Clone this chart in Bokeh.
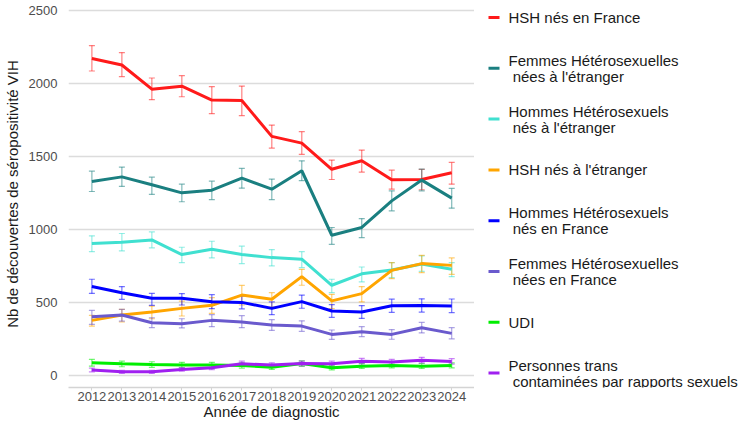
from bokeh.plotting import figure
from bokeh.layouts import row
from bokeh.models import ColumnDataSource, Whisker, TeeHead, FixedTicker, Range1d
from bokeh.core.properties import value
from bokeh.embed import file_html
from bokeh.resources import INLINE

years = list(range(2012, 2025))

series_names = [
    "HSH nés en France",
    "Femmes Hétérosexuelles\n nées à l'étranger",
    "Hommes Hétérosexuels\n nés à l'étranger",
    "HSH nés à l'étranger",
    "Hommes Hétérosexuels\n nés en France",
    "Femmes Hétérosexuelles\n nées en France",
    "UDI",
    "Personnes trans\n contaminées par rapports sexuels",
]
series_colors = ["#ff1a1a", "#1a7f80", "#40e0d0", "#ffa500", "#0000ff", "#6a5acd", "#00ee00", "#a020f0"]

hsh_fr = [2170, 2125, 1960, 1980, 1885, 1882, 1637, 1591, 1412, 1470, 1340, 1342, 1388]
hsh_fr_lo = [2084, 2046, 1888, 1908, 1792, 1779, 1557, 1514, 1342, 1393, 1276, 1272, 1310]
hsh_fr_hi = [2258, 2210, 2036, 2052, 1977, 1981, 1714, 1669, 1475, 1543, 1406, 1411, 1459]

fem_etr = [1329, 1360, 1306, 1251, 1269, 1352, 1276, 1402, 961, 1014, 1196, 1338, 1215]
fem_etr_lo = [1260, 1295, 1240, 1190, 1205, 1283, 1205, 1334, 899, 945, 1128, 1265, 1146]
fem_etr_hi = [1399, 1427, 1358, 1310, 1331, 1418, 1345, 1470, 1014, 1075, 1265, 1413, 1281]

hom_etr = [904, 913, 929, 829, 865, 829, 808, 797, 619, 697, 724, 765, 728]
hom_etr_lo = [849, 854, 875, 774, 806, 767, 751, 740, 568, 642, 671, 714, 678]
hom_etr_hi = [957, 973, 984, 879, 920, 886, 863, 849, 660, 744, 774, 820, 774]

hsh_etr = [379, 416, 436, 461, 482, 552, 523, 678, 512, 562, 721, 767, 755]
hsh_etr_lo = [340, 368, 390, 409, 427, 484, 470, 619, 459, 505, 664, 705, 694]
hsh_etr_hi = [413, 454, 477, 511, 534, 618, 568, 728, 557, 610, 774, 824, 806]

hom_fr = [610, 568, 530, 530, 507, 502, 461, 507, 443, 436, 479, 481, 477]
hom_fr_lo = [563, 523, 482, 484, 459, 458, 418, 462, 400, 392, 434, 436, 432]
hom_fr_hi = [660, 610, 563, 562, 555, 545, 505, 552, 487, 480, 524, 526, 525]

fem_fr = [404, 416, 363, 356, 379, 368, 347, 340, 283, 301, 283, 329, 290]
fem_fr_lo = [351, 374, 330, 327, 336, 329, 310, 304, 249, 268, 250, 293, 253]
fem_fr_hi = [447, 454, 397, 390, 418, 411, 384, 376, 313, 336, 316, 365, 329]

udi = [89, 82, 77, 73, 73, 71, 59, 84, 55, 66, 71, 66, 71]
udi_lo = [66, 62, 58, 55, 55, 53, 43, 65, 40, 50, 54, 50, 54]
udi_hi = [112, 100, 96, 92, 92, 89, 76, 102, 70, 84, 88, 84, 88]

trans = [39, 27, 27, 43, 55, 82, 73, 84, 82, 100, 94, 107, 98]
trans_lo = [27, 17, 17, 31, 42, 65, 58, 67, 65, 82, 77, 88, 80]
trans_hi = [53, 38, 38, 56, 68, 100, 89, 101, 100, 119, 112, 126, 117]

values = [hsh_fr, fem_etr, hom_etr, hsh_etr, hom_fr, fem_fr, udi, trans]
lows = [hsh_fr_lo, fem_etr_lo, hom_etr_lo, hsh_etr_lo, hom_fr_lo, fem_fr_lo, udi_lo, trans_lo]
highs = [hsh_fr_hi, fem_etr_hi, hom_etr_hi, hsh_etr_hi, hom_fr_hi, fem_fr_hi, udi_hi, trans_hi]

y_ticks = [0, 500, 1000, 1500, 2000, 2500]

FONT = "Liberation Sans"
H = 424
BOTTOM = 37
FRAME_H = H - BOTTOM

p = figure(width=474, height=H, output_backend="svg", toolbar_location=None, title=None,
           x_range=Range1d(2011.22, 2024.76), y_range=Range1d(-80, 2566),
           min_border_left=55, min_border_right=0, min_border_top=0, min_border_bottom=BOTTOM)
p.outline_line_color = None
p.background_fill_color = "white"
p.border_fill_color = "white"

p.xgrid.grid_line_color = None
p.ygrid.grid_line_color = "#dcdcdc"
p.ygrid.grid_line_width = 1.3

p.yaxis.ticker = FixedTicker(ticks=y_ticks)
p.xaxis.ticker = FixedTicker(ticks=years)
p.yaxis.axis_line_color = None
p.yaxis.major_tick_line_color = None
p.yaxis.minor_tick_line_color = None
p.yaxis.major_label_standoff = 5
p.xaxis.axis_line_color = "#d4d4d4"
p.xaxis.axis_line_width = 1.3
p.xaxis.major_tick_line_color = "#d4d4d4"
p.xaxis.major_tick_out = 3
p.xaxis.major_tick_in = 0
p.xaxis.minor_tick_line_color = None
p.xaxis.major_label_standoff = 1
for ax in (p.xaxis, p.yaxis):
    ax.major_label_text_font = FONT
    ax.major_label_text_font_size = "13px"
    ax.major_label_text_color = "#4d4d4d"
    ax.major_label_text_line_height = 1.0
    ax.axis_label_text_font = FONT
    ax.axis_label_text_font_size = "15px"
    ax.axis_label_text_font_style = "normal"
    ax.axis_label_text_color = "#1a1a1a"
    ax.axis_label_text_line_height = 1.0
p.xaxis.axis_label = "Année de diagnostic"
p.yaxis.axis_label = "Nb de découvertes de séropositivité VIH"
p.xaxis.axis_label_standoff = -1
p.yaxis.axis_label_standoff = 5

for color, v, lo, hi in zip(series_colors, values, lows, highs):
    src = ColumnDataSource(dict(x=years, y=v, lo=lo, hi=hi))
    w = Whisker(base="x", lower="lo", upper="hi", source=src, dimension="height",
                line_color=color, line_alpha=0.55, line_width=1.2,
                upper_head=TeeHead(size=6, line_color=color, line_alpha=0.55, line_width=1.2),
                lower_head=TeeHead(size=6, line_color=color, line_alpha=0.55, line_width=1.2))
    p.add_layout(w)
    p.line("x", "y", source=src, line_color=color, line_width=3)

# legend panel beside the plot; its frame is aligned with the plot frame in the row
LW = 264
leg = figure(width=LW, height=H, output_backend="svg", toolbar_location=None, title=None,
             x_range=Range1d(0, LW), y_range=Range1d(FRAME_H, 0),
             x_axis_location=None, y_axis_location=None,
             min_border=0, min_border_left=0, min_border_right=0,
             min_border_top=0, min_border_bottom=BOTTOM)
leg.grid.grid_line_color = None
leg.outline_line_color = None
leg.background_fill_color = "white"
leg.border_fill_color = "white"

n = len(series_names)
centers = [17 + 50.8 * i for i in range(n)]
leg.segment(x0=[14] * n, x1=[25] * n, y0=centers, y1=centers,
            color=series_colors, line_width=3)

line_gap = 16
tx, ty, tt = [], [], []
for c, name in zip(centers, series_names):
    lines = name.split("\n")
    for k, ln in enumerate(lines):
        tx.append(34)
        ty.append(c + (k - (len(lines) - 1) / 2) * line_gap)
        tt.append(ln.replace(" ", "\u00a0", 1) if ln.startswith(" ") else ln)
leg.text(x=tx, y=ty, text=tt, text_font=value(FONT),
         text_font_size="15px", text_baseline="middle", text_align="left",
         text_color="#1a1a1a")

layout = row(p, leg)
open("out.html", "w").write(file_html(layout, INLINE))
